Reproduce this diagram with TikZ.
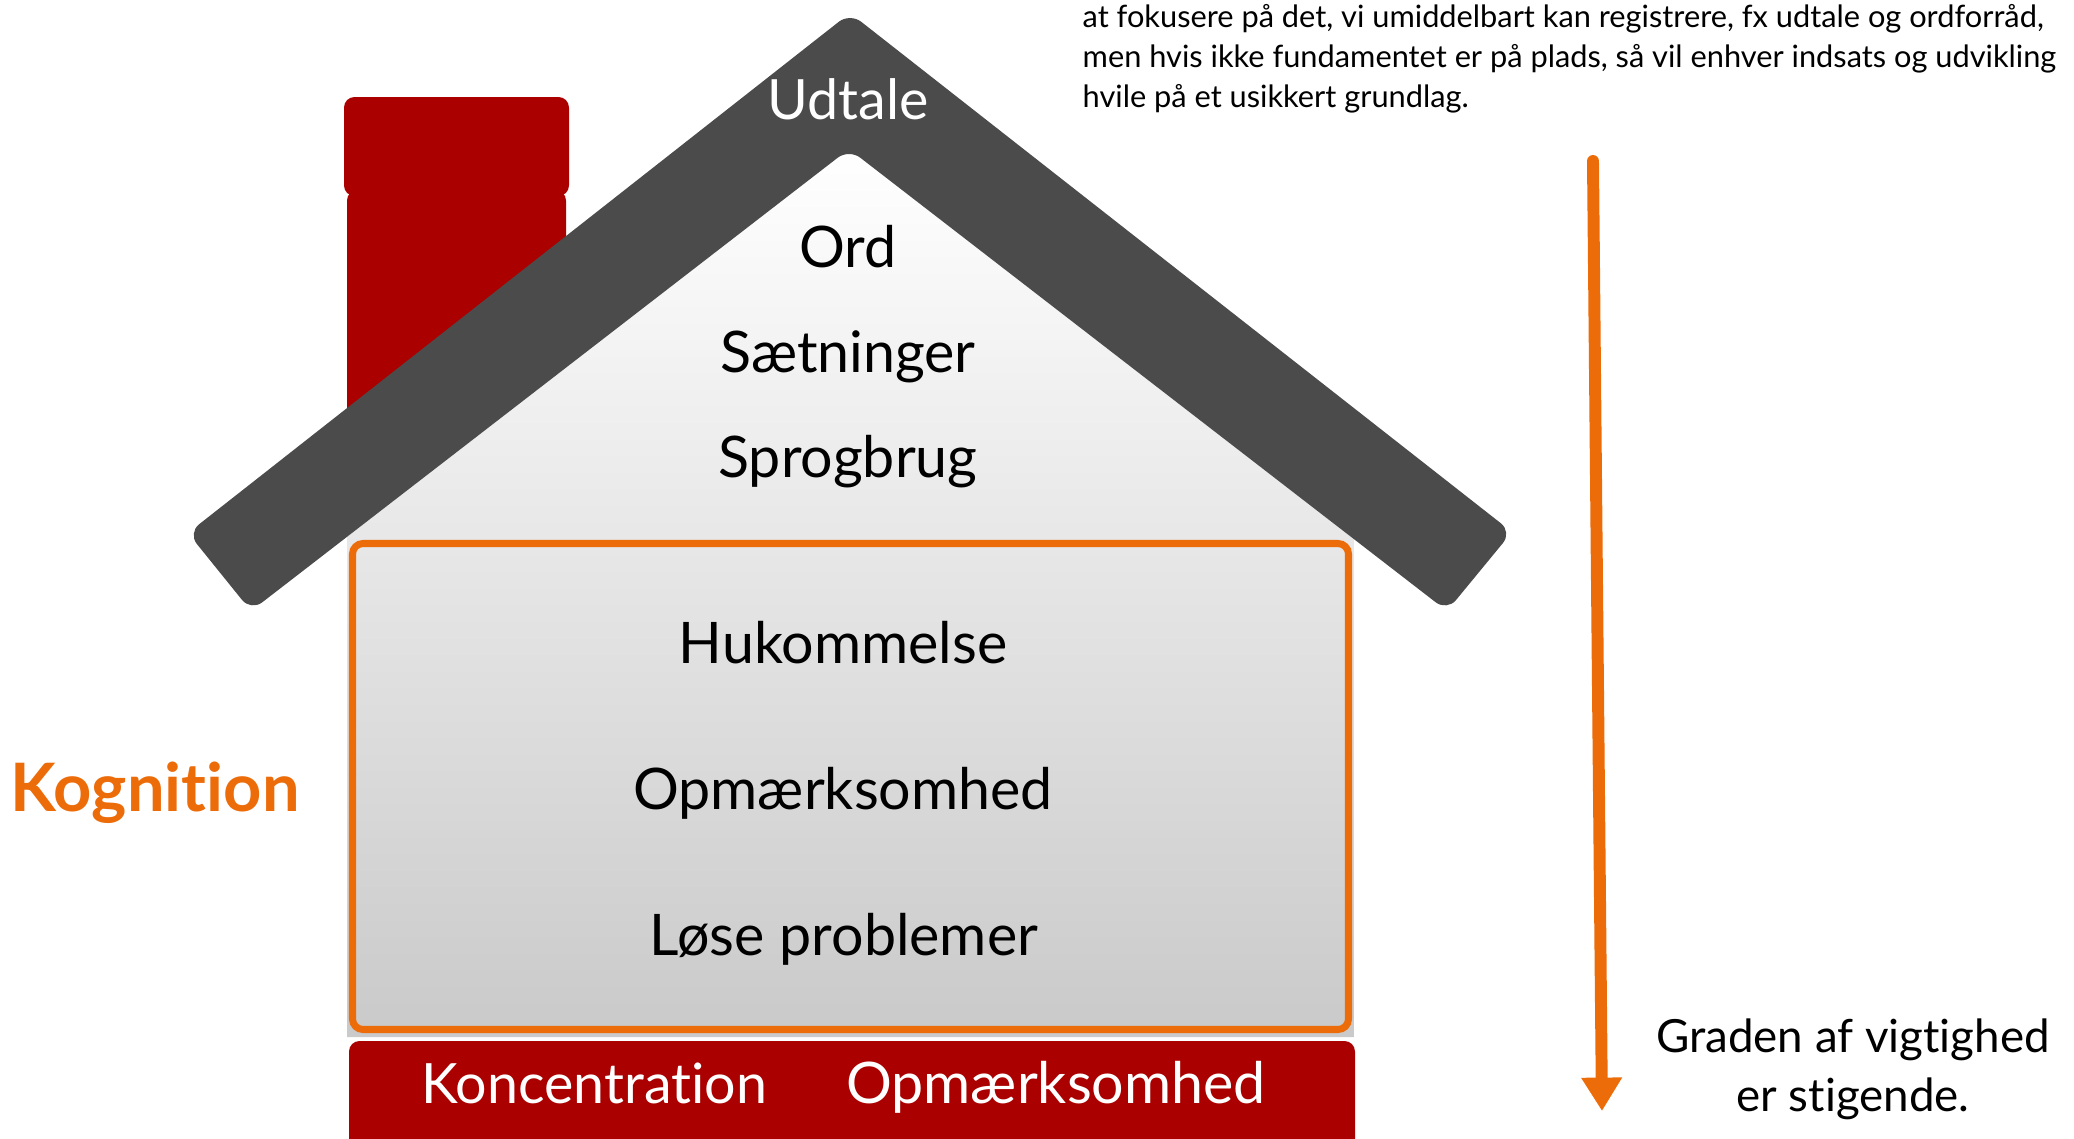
\documentclass[tikz,border=0pt]{standalone}
\usepackage{fontspec}
\setmainfont{Lato}[Ligatures=NoCommon]
\usetikzlibrary{arrows.meta, positioning}
\definecolor{roofgray}{HTML}{4B4B4B}
\definecolor{brickred}{HTML}{AA0000}
\definecolor{kogorange}{HTML}{EC6C0A}

\begin{document}
\begin{tikzpicture}[x=0.01cm, y=-0.01cm,
  word/.style={anchor=base, font=\fontsize{16.3}{19}\selectfont},
  light/.style={anchor=base, text=white, font=\fontsize{15.8}{19}\selectfont},
  note/.style={anchor=base west, inner sep=0pt, font=\fontsize{8.75}{10}\selectfont},
  sidenote/.style={anchor=base, font=\fontsize{13}{16}\selectfont},
]
\useasboundingbox (0,0) rectangle (2074,1139);

% House body
\shade[top color=white, bottom color=black!21] (849,149) -- (347,537) -- (347,1037) -- (1354,1037) -- (1354,539) -- cycle;

% Chimney
\fill[brickred, rounded corners=3pt] (347,190) -- (347,500) -- (566,330) -- (566,190) -- cycle;
\fill[brickred, rounded corners=3pt] (344,97) rectangle (569,196);

% Roof
\fill[roofgray, rounded corners=4pt] (850,13) -- (188,533) -- (251,611) -- (849,149) -- (1447,611) -- (1512,532) -- cycle;

% Cognition box and foundation
\draw[kogorange, line width=2pt, rounded corners=3pt] (352.5,543.5) rectangle (1348.5,1029.5);
\fill[brickred, rounded corners=3pt] (349,1041) rectangle (1355,1180);

% Labels
\node[light] (udtale) at (848,119) {Udtale};
\node[word] (ord) at (848,267) {Ord};
\node[word] (saetn) at (848,372) {Sætninger};
\node[word] (sprog) at (848,477) {Sprogbrug};
\node[word] (hukom) at (843,663) {Hukommelse};
\node[word] (opm) at (843,809) {Opmærksomhed};
\node[word] (loese) at (844,955) {Løse problemer};
\node[light] (konc) at (594,1103) {Koncentration};
\node[word, text=white] (opmb) at (1056,1103) {Opmærksomhed};
\node[anchor=base, text=kogorange, font=\bfseries\fontsize{19}{23}\selectfont] (kogn) at (155,811) {Kognition};

% Note at the top
\foreach \i/\y/\txt in {1/27/{at fokusere på det, vi umiddelbart kan registrere, fx udtale og ordforråd,},
                       2/67/{men hvis ikke fundamentet er på plads, så vil enhver indsats og udvikling},
                       3/107/{hvile på et usikkert grundlag.}} {
  \node[note] (para\i) at (1082,\y) {\txt};
}

% Importance arrow
\coordinate (arrtop) at (1593,161);
\coordinate (arrbot) at (1602,1111);
\draw[kogorange, line width=3.4pt, line cap=round, -{Triangle[width=11pt,length=9.5pt]}] (arrtop) -- (arrbot);
\node[sidenote] (grad1) at (1853,1052) {Graden af vigtighed};
\node[sidenote] (grad2) at (1853,1111) {er stigende.};
\end{tikzpicture}
\end{document}
